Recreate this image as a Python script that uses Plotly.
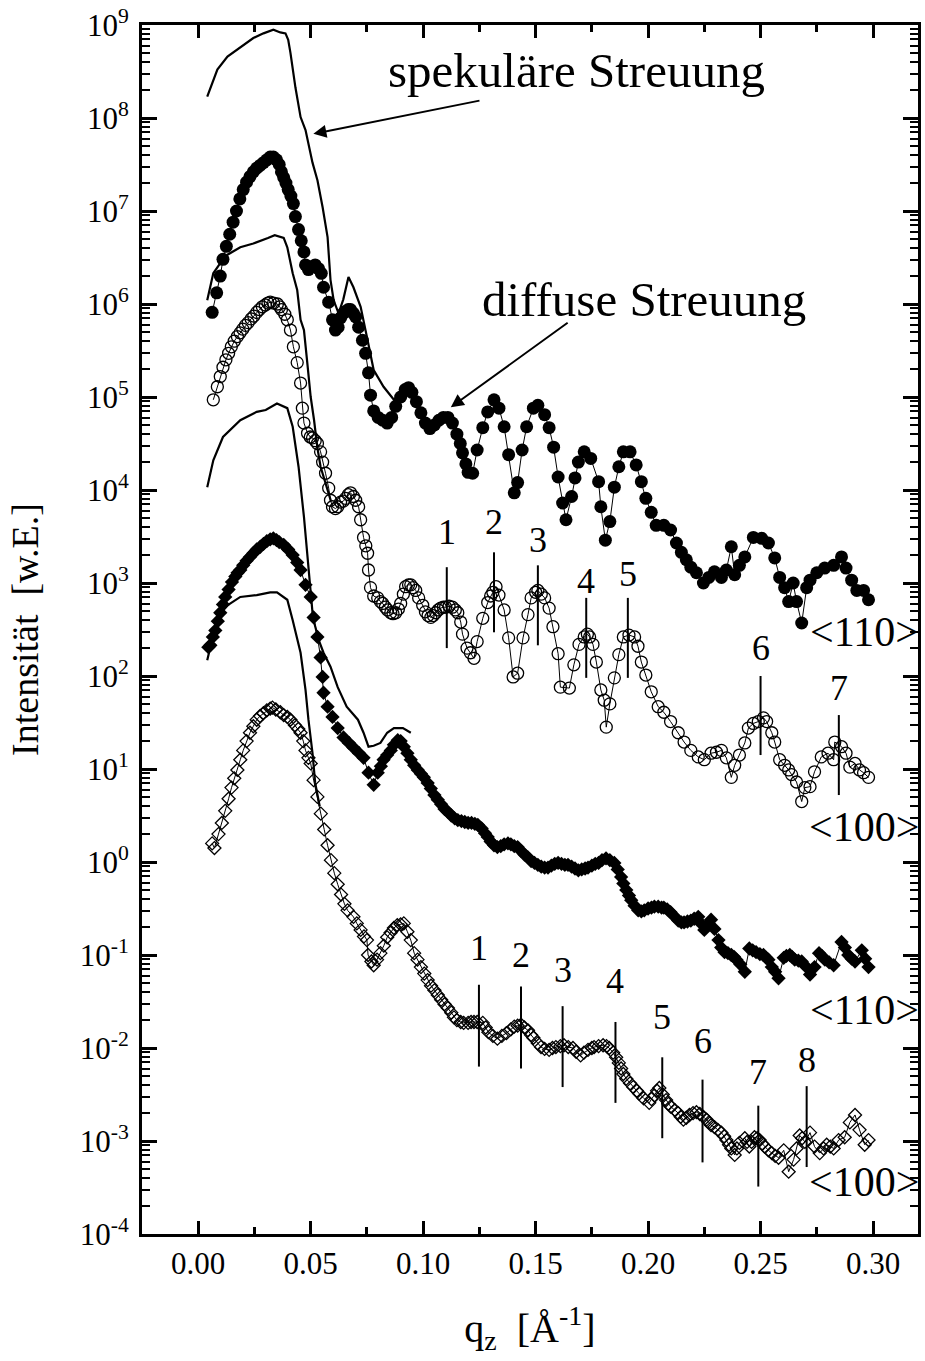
import plotly.graph_objects as go

# ---------------- data (q_z in 1/Angstrom, log10 of intensity in a.u.) ----------------
spec1_q = [0.004, 0.0085, 0.013, 0.0187, 0.0245, 0.029, 0.0334, 0.0365, 0.0388, 0.040, 0.041, 0.0432, 0.0455,
           0.0477, 0.049, 0.0508, 0.053, 0.0553, 0.0575, 0.0588, 0.0602, 0.0624, 0.0645, 0.0668, 0.069, 0.0722,
           0.0753, 0.078, 0.0824, 0.087, 0.090, 0.093, 0.095]
spec1_logI = [8.23, 8.52, 8.66, 8.76, 8.86, 8.91, 8.95, 8.92, 8.91, 8.84, 8.70, 8.33, 8.01, 7.87, 7.73, 7.52, 7.33,
              7.04, 6.72, 6.26, 6.04, 5.90, 6.05, 6.29, 6.18, 5.97, 5.61, 5.29, 5.11, 4.97, 5.05, 5.12, 5.05]

spec2_q = [0.004, 0.0067, 0.0098, 0.013, 0.0187, 0.0245, 0.031, 0.034, 0.038, 0.0396, 0.042, 0.044, 0.0455, 0.047,
           0.0486, 0.050, 0.0515, 0.053, 0.0544, 0.0573, 0.059]
spec2_logI = [6.04, 6.33, 6.44, 6.53, 6.61, 6.65, 6.71, 6.74, 6.71, 6.61, 6.33, 6.15, 5.83, 5.72, 5.34, 5.00, 4.75,
              4.45, 4.25, 4.00, 3.88]

spec3_q = [0.004, 0.0067, 0.011, 0.0187, 0.026, 0.030, 0.035, 0.0396, 0.042, 0.0446, 0.047, 0.049, 0.051, 0.0535,
           0.0557, 0.0588, 0.062, 0.066, 0.071, 0.0735, 0.0757, 0.078, 0.081, 0.084, 0.087, 0.091, 0.0945]
spec3_logI = [4.03, 4.32, 4.57, 4.75, 4.84, 4.86, 4.93, 4.88, 4.68, 4.25, 3.71, 3.17, 2.63, 2.39, 2.25, 2.10, 1.88,
              1.67, 1.53, 1.39, 1.24, 1.25, 1.28, 1.39, 1.44, 1.44, 1.39]

spec4_q = [0.004, 0.0085, 0.013, 0.0187, 0.026, 0.032, 0.035, 0.0396, 0.042, 0.0455, 0.0477, 0.049, 0.0508, 0.052,
           0.054]
spec4_logI = [2.17, 2.63, 2.76, 2.85, 2.87, 2.90, 2.90, 2.82, 2.60, 2.25, 1.85, 1.53, 1.17, 0.85, 0.60]

# diffuse <110>, upper pair (filled circles)
circ110_q = [0.0062, 0.0082, 0.0098, 0.011, 0.0125, 0.014, 0.0155, 0.017, 0.0185, 0.020, 0.0215, 0.023, 0.0245,
             0.026, 0.0275, 0.029, 0.0305, 0.032, 0.0334, 0.0348, 0.036, 0.037, 0.038, 0.039, 0.040, 0.0412, 0.0423,
             0.0432, 0.0446, 0.0458, 0.047, 0.0477, 0.049, 0.0505, 0.052, 0.0535, 0.0547, 0.0557, 0.058, 0.0597,
             0.061, 0.0622, 0.0633, 0.0645, 0.0655, 0.0667, 0.0677, 0.069, 0.070, 0.0713, 0.073, 0.0744, 0.0757,
             0.0766, 0.078, 0.080, 0.082, 0.084, 0.086, 0.0878, 0.090, 0.092, 0.0935, 0.095, 0.097, 0.099, 0.101,
             0.103, 0.105, 0.107, 0.109, 0.111, 0.113, 0.115, 0.1165, 0.1175, 0.119, 0.120, 0.122, 0.124, 0.1265,
             0.1287, 0.1315, 0.1337, 0.136, 0.138, 0.1405, 0.142, 0.144, 0.146, 0.149, 0.151, 0.154, 0.156, 0.158,
             0.160, 0.162, 0.1635, 0.166, 0.1675, 0.169, 0.1716, 0.1745, 0.178, 0.179, 0.181, 0.183, 0.185, 0.187,
             0.189, 0.192, 0.1947, 0.197, 0.199, 0.2014, 0.2036, 0.207, 0.210, 0.2126, 0.2148, 0.217, 0.219, 0.2215,
             0.2246, 0.227, 0.2295, 0.2326, 0.2348, 0.237, 0.2385, 0.2406, 0.243, 0.2468, 0.2505, 0.2535, 0.2563,
             0.2585, 0.2607, 0.2625, 0.2645, 0.266, 0.2683, 0.2705, 0.272, 0.275, 0.2785, 0.2825, 0.286, 0.288,
             0.2905, 0.2928, 0.2958, 0.298]
circ110_logI = [5.91, 6.12, 6.30, 6.48, 6.62, 6.75, 6.88, 7.00, 7.13, 7.23, 7.31, 7.37, 7.42, 7.46, 7.49, 7.52, 7.55,
                7.58, 7.58, 7.55, 7.50, 7.42, 7.36, 7.30, 7.23, 7.16, 7.08, 6.94, 6.80, 6.68, 6.56, 6.42, 6.37, 6.40,
                6.42, 6.38, 6.33, 6.18, 6.02, 5.83, 5.72, 5.75, 5.85, 5.90, 5.92, 5.94, 5.94, 5.90, 5.86, 5.75, 5.61,
                5.47, 5.26, 5.02, 4.85, 4.78, 4.75, 4.72, 4.78, 4.90, 5.00, 5.08, 5.10, 5.05, 4.95, 4.83, 4.72, 4.66,
                4.70, 4.75, 4.78, 4.78, 4.72, 4.60, 4.50, 4.40, 4.28, 4.19, 4.18, 4.43, 4.67, 4.84, 4.97, 4.88, 4.68,
                4.38, 3.97, 4.08, 4.43, 4.68, 4.88, 4.91, 4.81, 4.67, 4.46, 4.14, 3.86, 3.68, 3.93, 4.13, 4.30, 4.41,
                4.34, 4.09, 3.82, 3.46, 3.66, 4.03, 4.25, 4.41, 4.41, 4.27, 4.09, 3.91, 3.76, 3.62, 3.62, 3.57, 3.43,
                3.33, 3.25, 3.17, 3.11, 3.00, 3.06, 3.12, 3.06, 3.14, 3.39, 3.09, 3.19, 3.28, 3.49, 3.48, 3.43, 3.27,
                3.06, 2.95, 2.80, 3.00, 2.80, 2.57, 2.95, 3.03, 3.11, 3.16, 3.19, 3.28, 3.16, 3.03, 2.92, 2.92, 2.82]

# diffuse <100>, upper pair (open circles)
circ100_q = [0.0067, 0.0085, 0.0098, 0.011, 0.0123, 0.0135, 0.0147, 0.016, 0.0174, 0.0186, 0.0198, 0.021, 0.0222,
             0.0235, 0.0247, 0.026, 0.0272, 0.0285, 0.0298, 0.031, 0.032, 0.0335, 0.0352, 0.0362, 0.037, 0.0385,
             0.0396, 0.041, 0.0423, 0.044, 0.0455, 0.0463, 0.047, 0.0486, 0.0498, 0.0508, 0.052, 0.053, 0.0544,
             0.0553, 0.0566, 0.058, 0.0588, 0.0597, 0.061, 0.062, 0.0633, 0.0645, 0.0655, 0.0667, 0.0677, 0.069,
             0.070, 0.0713, 0.0722, 0.0735, 0.0745, 0.0753, 0.0757, 0.0766, 0.078, 0.0798, 0.081, 0.082, 0.0832,
             0.0842, 0.0856, 0.0866, 0.0878, 0.089, 0.090, 0.0912, 0.0922, 0.0935, 0.0945, 0.0955, 0.0967, 0.098,
             0.0998, 0.101, 0.1022, 0.1034, 0.1045, 0.1056, 0.1067, 0.1078, 0.109, 0.110, 0.1115, 0.113, 0.1143,
             0.1154, 0.1167, 0.1175, 0.1195, 0.121, 0.1226, 0.124, 0.1265, 0.1287, 0.130, 0.131, 0.1324, 0.1337,
             0.136, 0.138, 0.140, 0.142, 0.1444, 0.1466, 0.148, 0.150, 0.151, 0.1525, 0.154, 0.156, 0.1577, 0.160,
             0.161, 0.165, 0.167, 0.1693, 0.1716, 0.173, 0.174, 0.1755, 0.177, 0.179, 0.1805, 0.1814, 0.183, 0.185,
             0.187, 0.189, 0.1915, 0.194, 0.1955, 0.197, 0.199, 0.2014, 0.2045, 0.207, 0.210, 0.2134, 0.216, 0.219,
             0.2223, 0.225, 0.228, 0.2304, 0.2326, 0.2348, 0.237, 0.2385, 0.2406, 0.243, 0.2446, 0.2468, 0.249,
             0.2513, 0.2527, 0.255, 0.2563, 0.2585, 0.2607, 0.2625, 0.2638, 0.266, 0.2683, 0.2697, 0.272, 0.274,
             0.277, 0.280, 0.2825, 0.283, 0.286, 0.288, 0.2897, 0.292, 0.294, 0.2958, 0.298]
circ100_logI = [4.97, 5.11, 5.22, 5.32, 5.40, 5.47, 5.54, 5.60, 5.65, 5.69, 5.73, 5.77, 5.80, 5.84, 5.87, 5.91, 5.94,
                5.97, 5.99, 6.01, 6.02, 6.01, 6.00, 5.97, 5.94, 5.89, 5.83, 5.72, 5.54, 5.37, 5.15, 4.88, 4.72, 4.61,
                4.57, 4.56, 4.53, 4.50, 4.41, 4.30, 4.18, 4.02, 3.89, 3.82, 3.80, 3.82, 3.87, 3.88, 3.91, 3.95, 3.97,
                3.93, 3.89, 3.82, 3.68, 3.49, 3.40, 3.32, 3.14, 2.95, 2.86, 2.84, 2.80, 2.78, 2.74, 2.71, 2.68, 2.67,
                2.68, 2.72, 2.78, 2.88, 2.96, 2.98, 2.98, 2.95, 2.92, 2.84, 2.76, 2.69, 2.65, 2.63, 2.65, 2.68, 2.71,
                2.73, 2.74, 2.74, 2.75, 2.74, 2.71, 2.68, 2.58, 2.45, 2.30, 2.25, 2.19, 2.37, 2.62, 2.79, 2.86, 2.90,
                2.96, 2.87, 2.71, 2.41, 1.99, 2.03, 2.41, 2.66, 2.84, 2.90, 2.92, 2.88, 2.84, 2.73, 2.53, 2.24, 1.88,
                1.87, 2.12, 2.34, 2.42, 2.45, 2.42, 2.34, 2.15, 1.85, 1.74, 1.45, 1.70, 1.98, 2.23, 2.42, 2.44, 2.42,
                2.32, 2.15, 2.01, 1.83, 1.67, 1.61, 1.51, 1.39, 1.29, 1.20, 1.13, 1.10, 1.17, 1.18, 1.20, 1.12, 0.91,
                1.04, 1.15, 1.28, 1.44, 1.49, 1.51, 1.55, 1.51, 1.39, 1.29, 1.10, 1.04, 0.99, 0.94, 0.86, 0.65, 0.80,
                0.81, 0.97, 1.13, 1.17, 1.10, 1.29, 1.24, 1.17, 1.02, 1.06, 0.99, 0.96, 0.91]

# diffuse <110>, lower pair (filled diamonds)
dia110_q = [0.0045, 0.0054, 0.0065, 0.0076, 0.0087, 0.0098, 0.011, 0.012, 0.0135, 0.015, 0.0165, 0.0175, 0.0187,
            0.020, 0.0215, 0.023, 0.0245, 0.026, 0.0276, 0.029, 0.0305, 0.032, 0.0334, 0.0348, 0.036, 0.038, 0.040,
            0.042, 0.044, 0.0455, 0.0477, 0.050, 0.0513, 0.053, 0.0544, 0.0553, 0.0557, 0.0575, 0.0597, 0.062,
            0.0646, 0.067, 0.069, 0.0715, 0.0735, 0.0757, 0.078, 0.0798, 0.0812, 0.0824, 0.084, 0.0856, 0.087,
            0.0887, 0.090, 0.0914, 0.093, 0.0945, 0.096, 0.0976, 0.099, 0.1003, 0.102, 0.1034, 0.105, 0.1065, 0.108,
            0.1095, 0.111, 0.1125, 0.114, 0.1154, 0.117, 0.1185, 0.120, 0.1215, 0.123, 0.1243, 0.126, 0.1275, 0.1287,
            0.130, 0.1315, 0.133, 0.1345, 0.136, 0.1377, 0.139, 0.1405, 0.142, 0.1435, 0.145, 0.1466, 0.148, 0.1495,
            0.151, 0.1525, 0.154, 0.1555, 0.157, 0.1585, 0.160, 0.1615, 0.163, 0.1644, 0.166, 0.1675, 0.169, 0.1705,
            0.172, 0.1733, 0.175, 0.1765, 0.178, 0.1795, 0.1813, 0.183, 0.185, 0.1865, 0.188, 0.189, 0.1903, 0.1915,
            0.1925, 0.194, 0.1956, 0.197, 0.1983, 0.200, 0.2015, 0.2028, 0.2045, 0.206, 0.207, 0.2085, 0.210, 0.2115,
            0.2134, 0.2148, 0.216, 0.2175, 0.219, 0.2205, 0.2223, 0.2235, 0.225, 0.2265, 0.228, 0.2295, 0.2313,
            0.2325, 0.234, 0.2355, 0.237, 0.2382, 0.2393, 0.241, 0.243, 0.245, 0.2465, 0.248, 0.2497, 0.2513, 0.2525,
            0.2535, 0.255, 0.2565, 0.258, 0.2603, 0.2615, 0.263, 0.264, 0.2652, 0.2668, 0.2683, 0.270, 0.272, 0.274,
            0.276, 0.2773, 0.2786, 0.2805, 0.2825, 0.286, 0.2875, 0.289, 0.2905, 0.292, 0.295, 0.2965, 0.298]
dia110_logI = [2.31, 2.33, 2.42, 2.49, 2.59, 2.68, 2.77, 2.85, 2.93, 3.01, 3.07, 3.11, 3.14, 3.19, 3.24, 3.28, 3.32,
               3.36, 3.39, 3.42, 3.45, 3.47, 3.48, 3.46, 3.44, 3.41, 3.36, 3.30, 3.22, 3.14, 2.98, 2.85, 2.63, 2.42,
               2.20, 1.99, 1.82, 1.67, 1.56, 1.44, 1.34, 1.28, 1.23, 1.17, 1.12, 0.96, 0.83, 0.96, 1.03, 1.10, 1.15,
               1.20, 1.26, 1.31, 1.30, 1.24, 1.17, 1.10, 1.04, 0.99, 0.95, 0.91, 0.85, 0.79, 0.72, 0.67, 0.62, 0.57,
               0.54, 0.50, 0.47, 0.45, 0.44, 0.43, 0.42, 0.42, 0.41, 0.40, 0.36, 0.31, 0.27, 0.22, 0.18, 0.16, 0.17,
               0.19, 0.20, 0.19, 0.17, 0.16, 0.12, 0.08, 0.05, 0.01, -0.01, -0.03, -0.05, -0.06, -0.06, -0.04, -0.02,
               -0.01, -0.02, -0.03, -0.03, -0.05, -0.07, -0.09, -0.08, -0.07, -0.06, -0.04, -0.02, -0.01, 0.02, 0.04,
               0.02, -0.01, -0.08, -0.16, -0.23, -0.30, -0.36, -0.41, -0.47, -0.52, -0.53, -0.52, -0.50, -0.49, -0.48,
               -0.48, -0.49, -0.49, -0.51, -0.54, -0.58, -0.63, -0.65, -0.65, -0.64, -0.63, -0.61, -0.59, -0.66, -0.73,
               -0.68, -0.62, -0.72, -0.84, -0.92, -0.97, -0.98, -1.00, -1.02, -1.05, -1.10, -1.18, -0.93, -0.95, -0.97,
               -0.99, -1.00, -1.03, -1.05, -1.13, -1.18, -1.25, -1.03, -1.01, -1.00, -1.02, -1.05, -1.06, -1.07, -1.12,
               -1.21, -1.13, -0.98, -1.01, -1.05, -1.08, -1.11, -0.86, -0.92, -1.00, -1.04, -1.07, -0.95, -1.04, -1.13]

# diffuse <100>, lower pair (open diamonds)
dia100_q = [0.0062, 0.0072, 0.009, 0.0105, 0.012, 0.0135, 0.0148, 0.016, 0.0174, 0.0187, 0.020, 0.0215, 0.023,
            0.0245, 0.026, 0.0275, 0.029, 0.0305, 0.032, 0.033, 0.0345, 0.0365, 0.038, 0.0396, 0.041, 0.043, 0.0445,
            0.0455, 0.0467, 0.0477, 0.049, 0.050, 0.0513, 0.053, 0.0545, 0.056, 0.0575, 0.059, 0.0605, 0.062, 0.0635,
            0.065, 0.0664, 0.069, 0.0705, 0.0722, 0.0737, 0.075, 0.0755, 0.077, 0.078, 0.0795, 0.081, 0.0825, 0.084,
            0.0855, 0.087, 0.0885, 0.090, 0.0914, 0.093, 0.0945, 0.096, 0.0975, 0.099, 0.1005, 0.102, 0.1035, 0.105,
            0.1065, 0.108, 0.1095, 0.111, 0.1125, 0.1137, 0.115, 0.1167, 0.118, 0.120, 0.1213, 0.1226, 0.124, 0.1265,
            0.1278, 0.129, 0.131, 0.133, 0.135, 0.137, 0.139, 0.1405, 0.142, 0.1435, 0.145, 0.1466, 0.148, 0.149,
            0.151, 0.1524, 0.154, 0.156, 0.1575, 0.159, 0.161, 0.1626, 0.1645, 0.1666, 0.168, 0.170, 0.1715, 0.1733,
            0.175, 0.176, 0.178, 0.180, 0.1815, 0.1827, 0.1845, 0.1858, 0.187, 0.188, 0.189, 0.1903, 0.192, 0.1934,
            0.195, 0.196, 0.198, 0.2005, 0.2015, 0.2028, 0.204, 0.205, 0.2065, 0.208, 0.209, 0.210, 0.212, 0.2134,
            0.2145, 0.2157, 0.217, 0.2184, 0.220, 0.2215, 0.223, 0.2246, 0.226, 0.227, 0.228, 0.2295, 0.231, 0.2326,
            0.2338, 0.2348, 0.236, 0.237, 0.2385, 0.2395, 0.2406, 0.243, 0.244, 0.245, 0.246, 0.2473, 0.2485, 0.2496,
            0.2508, 0.2518, 0.2535, 0.255, 0.2565, 0.258, 0.2603, 0.2625, 0.2647, 0.266, 0.2674, 0.2685, 0.2697,
            0.272, 0.274, 0.2763, 0.278, 0.2794, 0.281, 0.2825, 0.2847, 0.2874, 0.2897, 0.292, 0.294, 0.2963, 0.298]
dia100_logI = [0.20, 0.15, 0.30, 0.42, 0.55, 0.68, 0.80, 0.90, 0.99, 1.10, 1.20, 1.30, 1.39, 1.46, 1.53, 1.57, 1.60,
               1.63, 1.65, 1.66, 1.64, 1.61, 1.58, 1.56, 1.53, 1.47, 1.43, 1.39, 1.30, 1.20, 1.12, 1.06, 0.88, 0.70,
               0.52, 0.35, 0.18, 0.02, -0.12, -0.24, -0.35, -0.45, -0.52, -0.59, -0.66, -0.73, -0.80, -0.84, -1.00,
               -1.07, -1.11, -1.05, -0.98, -0.90, -0.81, -0.76, -0.71, -0.68, -0.67, -0.66, -0.75, -0.84, -0.98, -1.05,
               -1.13, -1.20, -1.27, -1.33, -1.38, -1.43, -1.48, -1.53, -1.57, -1.62, -1.67, -1.70, -1.72, -1.73, -1.73,
               -1.72, -1.72, -1.72, -1.73, -1.78, -1.83, -1.87, -1.90, -1.87, -1.84, -1.80, -1.77, -1.76, -1.75, -1.78,
               -1.81, -1.86, -1.89, -1.95, -1.99, -2.01, -2.02, -2.00, -1.99, -1.98, -1.97, -1.99, -2.00, -2.04, -2.08,
               -2.05, -2.02, -2.00, -1.99, -1.98, -1.97, -1.98, -2.00, -2.05, -2.10, -2.16, -2.22, -2.28, -2.33, -2.38,
               -2.42, -2.46, -2.49, -2.54, -2.59, -2.55, -2.51, -2.46, -2.43, -2.50, -2.56, -2.60, -2.63, -2.67, -2.70,
               -2.74, -2.77, -2.75, -2.72, -2.70, -2.69, -2.71, -2.74, -2.77, -2.80, -2.83, -2.85, -2.88, -2.91, -2.95,
               -2.99, -3.04, -3.08, -3.15, -3.08, -3.02, -2.97, -3.01, -3.06, -3.01, -2.96, -2.97, -2.99, -3.03, -3.06,
               -3.10, -3.13, -3.16, -3.18, -3.10, -3.33, -3.20, -3.08, -2.94, -2.97, -3.01, -2.91, -3.06, -3.13, -3.08,
               -3.04, -3.06, -3.08, -2.99, -2.96, -2.80, -2.72, -2.88, -3.04, -2.99]

# peak markers (q position, log10 of bottom / top of the marker line, log10 of the label position)
peaks_upper_label = ["1", "2", "3", "4", "5", "6", "7"]
peaks_upper_q = [0.1105, 0.1315, 0.151, 0.1725, 0.191, 0.250, 0.2848]
peaks_upper_lo = [2.30, 2.47, 2.33, 1.98, 1.98, 1.15, 0.72]
peaks_upper_hi = [3.17, 3.33, 3.19, 2.84, 2.84, 2.00, 1.58]
peaks_upper_txt = [3.55, 3.66, 3.46, 3.02, 3.10, 2.30, 1.87]

peaks_lower_label = ["1", "2", "3", "4", "5", "6", "7", "8"]
peaks_lower_q = [0.1248, 0.1435, 0.162, 0.1855, 0.2063, 0.2242, 0.249, 0.2705]
peaks_lower_lo = [-2.20, -2.22, -2.42, -2.59, -2.97, -3.23, -3.49, -3.28]
peaks_lower_hi = [-1.32, -1.34, -1.55, -1.72, -2.10, -2.34, -2.62, -2.41]
peaks_lower_txt = [-0.92, -1.00, -1.16, -1.28, -1.67, -1.92, -2.26, -2.13]

# direction labels at right
dir_labels = ["&lt;110&gt;", "&lt;100&gt;", "&lt;110&gt;", "&lt;100&gt;"]
dir_logy = [2.47, 0.38, -1.59, -3.44]

y_exponents = list(range(-4, 10))
y_ticktext = ["10<sup>%d</sup>" % e for e in y_exponents]
x_ticks = [0.00, 0.05, 0.10, 0.15, 0.20, 0.25, 0.30]
x_ticktext = ["0.00", "0.05", "0.10", "0.15", "0.20", "0.25", "0.30"]

FONT = "Liberation Serif"
X_RANGE = [-0.025, 0.32]
Y_RANGE = [-4, 9]


def lin(vals):
    return [10 ** v for v in vals]


fig = go.Figure()

for q, li in [(spec1_q, spec1_logI), (spec2_q, spec2_logI), (spec3_q, spec3_logI), (spec4_q, spec4_logI)]:
    fig.add_trace(go.Scatter(x=q, y=lin(li), mode="lines", line=dict(color="black", width=2.2),
                             showlegend=False, hoverinfo="skip"))

fig.add_trace(go.Scatter(x=circ110_q, y=lin(circ110_logI), mode="lines+markers",
                         line=dict(color="black", width=1),
                         marker=dict(symbol="circle", size=13, color="black"), showlegend=False))
fig.add_trace(go.Scatter(x=circ100_q, y=lin(circ100_logI), mode="lines+markers",
                         line=dict(color="black", width=1),
                         marker=dict(symbol="circle-open", size=12, color="black", line=dict(width=1.3)),
                         showlegend=False))
fig.add_trace(go.Scatter(x=dia110_q, y=lin(dia110_logI), mode="lines+markers",
                         line=dict(color="black", width=1),
                         marker=dict(symbol="diamond", size=11, color="black"), showlegend=False))
fig.add_trace(go.Scatter(x=dia100_q, y=lin(dia100_logI), mode="lines+markers",
                         line=dict(color="black", width=1),
                         marker=dict(symbol="diamond-open", size=10, color="black", line=dict(width=1.3)),
                         showlegend=False))

# peak marker lines
vx, vy = [], []
for qs, los, his in [(peaks_upper_q, peaks_upper_lo, peaks_upper_hi), (peaks_lower_q, peaks_lower_lo, peaks_lower_hi)]:
    for q, lo, hi in zip(qs, los, his):
        vx += [q, q, None]
        vy += [10 ** lo, 10 ** hi, None]
fig.add_trace(go.Scatter(x=vx, y=vy, mode="lines", line=dict(color="black", width=2),
                         showlegend=False, hoverinfo="skip"))

# empty trace that carries the mirrored (top / right) tick axes
fig.add_trace(go.Scatter(x=[None], y=[None], xaxis="x2", yaxis="y2", showlegend=False, hoverinfo="skip"))

annotations = []
for labels, qs, ts in [(peaks_upper_label, peaks_upper_q, peaks_upper_txt),
                       (peaks_lower_label, peaks_lower_q, peaks_lower_txt)]:
    for lab, q, t in zip(labels, qs, ts):
        annotations.append(dict(x=q, y=t, xref="x", yref="y", text=lab, showarrow=False,
                                font=dict(family=FONT, size=36, color="black")))

for lab, ly in zip(dir_labels, dir_logy):
    annotations.append(dict(x=1.004, y=ly, xref="paper", yref="y", text=lab, showarrow=False, xanchor="right",
                            font=dict(family=FONT, size=42, color="black")))

# arrows with texts
annotations.append(dict(x=0.0512, y=7.83, ax=0.1257, ay=8.19, xref="x", yref="y", axref="x", ayref="y",
                        text="", showarrow=True, arrowhead=2, arrowsize=1.3, arrowwidth=2, arrowcolor="black"))
annotations.append(dict(x=0.168, y=8.51, xref="x", yref="y", text="spekuläre Streuung", showarrow=False,
                        font=dict(family=FONT, size=49, color="black")))
annotations.append(dict(x=0.1123, y=4.89, ax=0.1649, ay=5.81, xref="x", yref="y", axref="x", ayref="y",
                        text="", showarrow=True, arrowhead=2, arrowsize=1.3, arrowwidth=2, arrowcolor="black"))
annotations.append(dict(x=0.1983, y=6.05, xref="x", yref="y", text="diffuse Streuung", showarrow=False,
                        font=dict(family=FONT, size=49, color="black")))

x_minor = dict(ticks="inside", ticklen=7, tickwidth=2.5, tickcolor="black", dtick=0.025, tick0=0, showgrid=False)
y_minor = dict(ticks="inside", ticklen=8, tickwidth=2, tickcolor="black", dtick="D1", showgrid=False)

fig.update_layout(
    width=925, height=1361,
    margin=dict(l=142, r=7, t=25, b=127),
    paper_bgcolor="white", plot_bgcolor="white",
    font=dict(family=FONT, size=31, color="black"),
    annotations=annotations,
    xaxis=dict(range=X_RANGE, tickmode="array", tickvals=x_ticks, ticktext=x_ticktext,
               ticks="inside", ticklen=13, tickwidth=2.5, tickcolor="black",
               showline=True, linewidth=3, linecolor="black", mirror=True,
               showgrid=False, zeroline=False, ticklabelstandoff=0, automargin=False,
               ticklabeloverflow="allow", minor=x_minor,
               title=dict(text="q<sub>z</sub>\u00a0\u00a0[Å<sup>-1</sup>]", font=dict(family=FONT, size=40),
                          standoff=34)),
    yaxis=dict(type="log", range=Y_RANGE, tickmode="array", tickvals=[10 ** e for e in y_exponents],
               ticktext=y_ticktext, ticks="inside", ticklen=15, tickwidth=2.5, tickcolor="black",
               showline=True, linewidth=3, linecolor="black", mirror=True,
               showgrid=False, zeroline=False, ticklabelstandoff=4, automargin=False,
               ticklabeloverflow="allow", minor=y_minor,
               title=dict(text="Intensität\u00a0\u00a0[w.E.]", font=dict(family=FONT, size=38), standoff=30)),
    xaxis2=dict(range=X_RANGE, overlaying="x", side="top", anchor="y", tickmode="array", tickvals=x_ticks,
                showticklabels=False, ticks="inside", ticklen=13, tickwidth=2.5, tickcolor="black",
                showline=False, showgrid=False, zeroline=False, automargin=False, minor=x_minor),
    yaxis2=dict(type="log", range=Y_RANGE, overlaying="y", side="right", anchor="x", tickmode="array",
                tickvals=[10 ** e for e in y_exponents], showticklabels=False, ticks="inside", ticklen=15,
                tickwidth=2.5, tickcolor="black", showline=False, showgrid=False, zeroline=False,
                automargin=False, minor=y_minor),
)

# remove the default 8 px page margin so the figure sits exactly in the 925x1361 window
fig.write_html("out.html", config={"displayModeBar": False},
               post_script="document.body.style.margin='0';document.body.style.overflow='hidden';")
